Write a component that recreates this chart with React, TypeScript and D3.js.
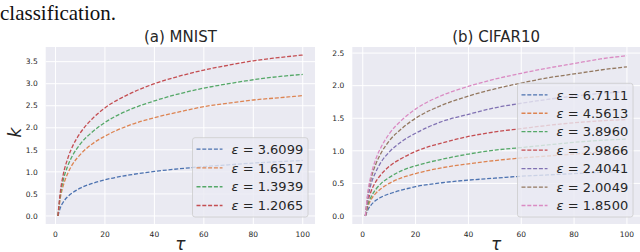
import React from 'react'
import * as d3 from 'd3'

// tau sample points shared by every curve
const taus = [1, 2, 3, 5, 7, 10, 15, 20, 30, 40, 50, 60, 70, 80, 90, 100]

// (a) MNIST
const mnistEps = ['3.6099', '1.6517', '1.3939', '1.2065']
const mnistK = [
  [0, 0.19, 0.30, 0.44, 0.53, 0.63, 0.74, 0.82, 0.93, 1.01, 1.07, 1.12, 1.16, 1.20, 1.23, 1.26],
  [0, 0.42, 0.66, 0.97, 1.18, 1.39, 1.64, 1.81, 2.06, 2.23, 2.36, 2.48, 2.56, 2.63, 2.68, 2.73],
  [0, 0.49, 0.78, 1.14, 1.38, 1.63, 1.91, 2.12, 2.41, 2.61, 2.77, 2.90, 3.00, 3.09, 3.16, 3.21],
  [0, 0.56, 0.90, 1.31, 1.59, 1.88, 2.21, 2.45, 2.77, 3.00, 3.17, 3.31, 3.42, 3.52, 3.59, 3.65],
]

// (b) CIFAR10
const cifarEps = ['6.7111', '4.5613', '3.8960', '2.9866', '2.4041', '2.0049', '1.8500']
const cifarK = [
  [0, 0.10, 0.16, 0.24, 0.29, 0.34, 0.40, 0.45, 0.51, 0.55, 0.58, 0.61, 0.63, 0.65, 0.67, 0.68],
  [0, 0.15, 0.24, 0.35, 0.42, 0.50, 0.59, 0.65, 0.74, 0.80, 0.85, 0.89, 0.92, 0.95, 0.98, 1.00],
  [0, 0.18, 0.28, 0.41, 0.50, 0.59, 0.70, 0.77, 0.87, 0.95, 1.01, 1.05, 1.09, 1.13, 1.16, 1.18],
  [0, 0.23, 0.36, 0.53, 0.64, 0.76, 0.89, 0.99, 1.12, 1.22, 1.29, 1.34, 1.39, 1.43, 1.46, 1.48],
  [0, 0.29, 0.47, 0.68, 0.83, 0.98, 1.15, 1.27, 1.45, 1.56, 1.66, 1.73, 1.79, 1.84, 1.88, 1.91],
  [0, 0.35, 0.55, 0.80, 0.97, 1.15, 1.35, 1.50, 1.70, 1.84, 1.95, 2.04, 2.12, 2.18, 2.24, 2.29],
  [0, 0.38, 0.60, 0.88, 1.06, 1.26, 1.48, 1.64, 1.85, 1.99, 2.10, 2.19, 2.27, 2.34, 2.41, 2.46],
]

const xTicks = [0, 20, 40, 60, 80, 100]
const colors = ['#4C72B0', '#DD8452', '#55A868', '#C44E52', '#8172B3', '#937860', '#DA8BC3']

const font = 'DejaVu Sans, sans-serif'

type PanelProps = {
  title: string
  left: number
  right: number
  series: number[][]
  eps: string[]
  yMax: number
  yTicks: number[]
  legendTop: number
  showYLabel?: boolean
}

const Panel = ({ title, left, right, series, eps, yMax, yTicks, legendTop, showYLabel }: PanelProps) => {
  const top = 47
  const bottom = 224
  const pad = yMax * 0.05
  const x = d3.scaleLinear().domain([-3.95, 104.95]).range([left, right])
  const y = d3.scaleLinear().domain([-pad, yMax + pad]).range([bottom, top])
  const line = d3.line<number>()
    .x((_, i) => x(taus[i]))
    .y(d => y(d))
    .curve(d3.curveMonotoneX)

  const legendRight = right - 7
  const legendLeft = legendRight - 115.5
  const legendBottom = bottom - 7
  const rowH = (legendBottom - legendTop - 23) / (eps.length - 1)

  return (
    <g fontFamily={font}>
      <rect x={left} y={top} width={right - left} height={bottom - top} fill="#EAEAF2" />
      {xTicks.map(t => (
        <line key={'gx' + t} x1={x(t)} x2={x(t)} y1={top} y2={bottom} stroke="#fff" strokeWidth={1} />
      ))}
      {yTicks.map(t => (
        <line key={'gy' + t} x1={left} x2={right} y1={y(t)} y2={y(t)} stroke="#fff" strokeWidth={1} />
      ))}
      {series.map((s, i) => (
        <path key={'s' + i} d={line(s) || ''} fill="none" stroke={colors[i]}
          strokeWidth={1.3} strokeDasharray="4,1.8" />
      ))}
      {xTicks.map(t => (
        <text key={'tx' + t} x={x(t)} y={236.5} fontSize={7.5} textAnchor="middle" fill="#262626">{t}</text>
      ))}
      {yTicks.map(t => (
        <text key={'ty' + t} x={left - 8} y={y(t) + 2.7} fontSize={7.5} textAnchor="end" fill="#262626">
          {d3.format('.1f')(t)}
        </text>
      ))}
      <text x={(left + right) / 2} y={42} fontSize={15} textAnchor="middle" fill="#262626">{title}</text>
      <text x={(left + right) / 2} y={249.5} fontSize={17} fontStyle="italic" textAnchor="middle" fill="#262626">τ</text>
      {showYLabel && (
        <text transform={`translate(21,${(top + bottom) / 2 - 3}) rotate(-90)`} fontSize={17}
          fontStyle="italic" textAnchor="middle" fill="#262626">k</text>
      )}
      <rect x={legendLeft} y={legendTop} width={legendRight - legendLeft} height={legendBottom - legendTop}
        rx={2.5} fill="#EAEAF2" fillOpacity={0.8} stroke="#CCCCCC" strokeWidth={0.8} />
      {eps.map((e, i) => {
        const cy = legendTop + 11.5 + i * rowH
        return (
          <g key={'l' + i}>
            <line x1={legendLeft + 4} x2={legendLeft + 30} y1={cy} y2={cy} stroke={colors[i]}
              strokeWidth={1.3} strokeDasharray="4,1.8" />
            <text x={legendLeft + 39} y={cy + 4.7} fontSize={13} fill="#262626">
              <tspan fontStyle="italic">ε</tspan>{' = ' + e}
            </text>
          </g>
        )
      })}
    </g>
  )
}

const App = () => (
  <svg width={640} height={252} style={{ position: 'absolute', left: 0, top: 0, background: '#fff' }}>
    <text x={0} y={20} fontSize={21} fontFamily="Liberation Serif, serif" fill="#111">classification.</text>
    <Panel title="(a) MNIST" left={45.7} right={315} series={mnistK} eps={mnistEps} yMax={3.65}
      yTicks={[0, 0.5, 1, 1.5, 2, 2.5, 3, 3.5]} legendTop={137.7} showYLabel />
    <Panel title="(b) CIFAR10" left={352.3} right={640} series={cifarK} eps={cifarEps} yMax={2.47}
      yTicks={[0, 0.5, 1, 1.5, 2, 2.5]} legendTop={83.3} />
  </svg>
)

export default App
